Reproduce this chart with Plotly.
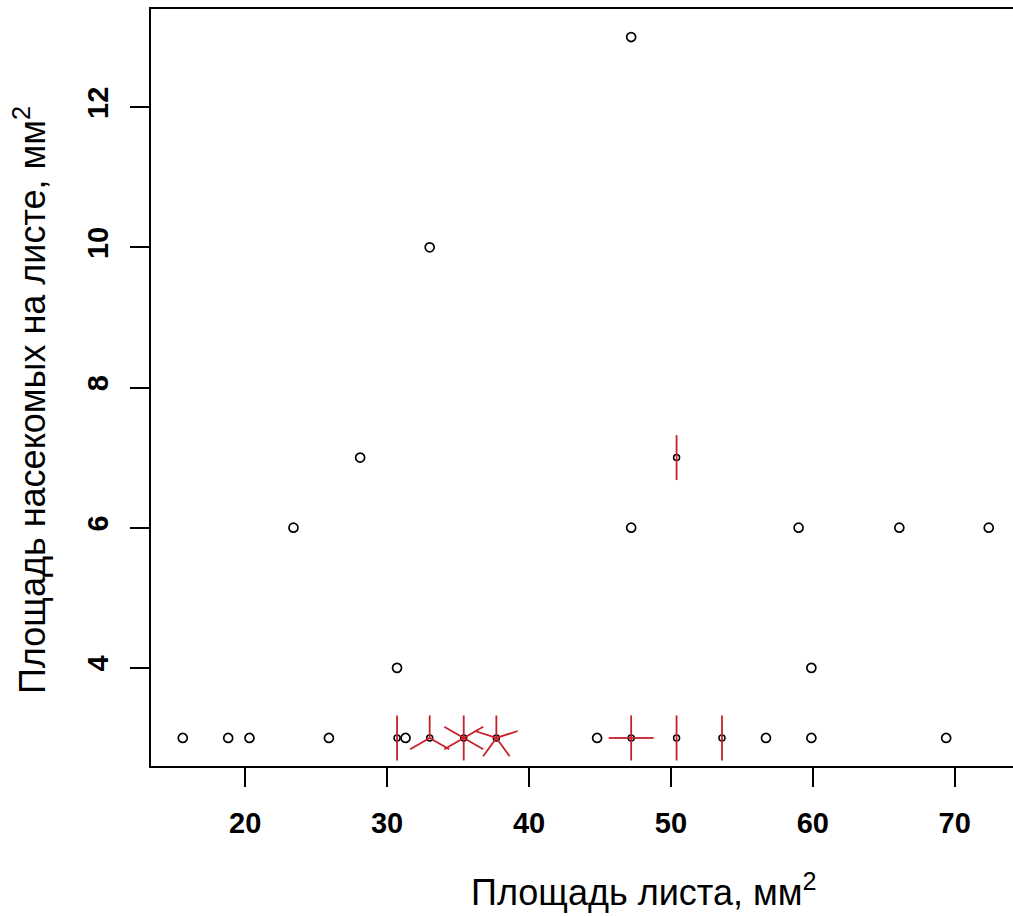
import plotly.graph_objects as go
from collections import Counter
import math

# Raw observations (leaf area, insect area) including repeated pairs
leaf_area = [15.6, 18.8, 20.3, 25.9,
             30.7, 30.7, 31.3,
             33.0, 33.0, 33.0,
             35.4, 35.4, 35.4, 35.4, 35.4, 35.4,
             37.7, 37.7, 37.7, 37.7, 37.7,
             44.8,
             47.2, 47.2, 47.2, 47.2,
             50.4, 50.4, 53.6, 53.6,
             56.7, 59.9, 69.4,
             23.4, 28.1, 30.7, 33.0, 47.2, 47.2,
             50.4, 50.4, 59.0, 59.9, 66.1, 72.4]
insect_area = [3, 3, 3, 3,
               3, 3, 3,
               3, 3, 3,
               3, 3, 3, 3, 3, 3,
               3, 3, 3, 3, 3,
               3,
               3, 3, 3, 3,
               3, 3, 3, 3,
               3, 3, 3,
               6, 7, 4, 10, 13, 6,
               7, 7, 6, 4, 6, 6]

x_ticks = [20, 30, 40, 50, 60, 70]
y_ticks = [4, 6, 8, 10, 12]
x_title = "Площадь листа, мм<sup>2</sup>"
y_title = "Площадь насекомых на листе, мм<sup>2</sup>"

W, H = 1013, 916
ML, MR, MT, MB = 151, 0, 9, 150
x_range = [13.36, 74.11]
y_range = [2.6, 13.4]
petal_px = 22.5

counts = Counter(zip(leaf_area, insect_area))
single = [(k, v) for k, v in counts.items() if v == 1]
multi = [(k, v) for k, v in counts.items() if v > 1]

pw = W - ML - MR
ph = H - MT - MB
xr = petal_px * (x_range[1] - x_range[0]) / pw
yr = petal_px * (y_range[1] - y_range[0]) / ph

fig = go.Figure()
fig.add_trace(go.Scatter(
    x=[k[0] for k, v in single], y=[k[1] for k, v in single], mode="markers",
    marker=dict(symbol="circle-open", size=9, color="black", line=dict(width=1.7)),
    showlegend=False, hoverinfo="skip"))
fig.add_trace(go.Scatter(
    x=[k[0] for k, v in multi], y=[k[1] for k, v in multi], mode="markers",
    marker=dict(symbol="circle-open", size=6, color="black", line=dict(width=1.5)),
    showlegend=False, hoverinfo="skip"))

px_, py_ = [], []
for (cx, cy), n in multi:
    for i in range(1, n + 1):
        d = 2 * math.pi * i / n
        px_ += [cx, cx + xr * math.sin(d), None]
        py_ += [cy, cy + yr * math.cos(d), None]
fig.add_trace(go.Scatter(x=px_, y=py_, mode="lines",
                         line=dict(color="#C81E28", width=1.8),
                         showlegend=False, hoverinfo="skip"))

tick_font = dict(family="Liberation Sans Narrow, Liberation Sans", size=29, color="black")
title_font = dict(family="Liberation Sans", size=36, color="black")


def px_to_paper_x(px):
    return (px - ML) / pw


def px_to_paper_y(py):
    return (H - MB - py) / ph


fig.update_layout(
    width=W, height=H, autosize=False,
    margin=dict(l=ML, r=MR, t=MT, b=MB, pad=0),
    plot_bgcolor="white", paper_bgcolor="white",
    xaxis=dict(range=x_range, tickvals=x_ticks, ticktext=[f"<b>{t}</b>" for t in x_ticks],
               showgrid=False, zeroline=False, showline=True, mirror=True,
               linecolor="black", linewidth=1.5, ticks="outside", ticklen=19,
               tickwidth=1.5, tickcolor="black", tickfont=tick_font,
               ticklabelstandoff=11),
    yaxis=dict(range=y_range, tickvals=y_ticks, ticktext=[f"<b>{t}</b>" for t in y_ticks],
               showgrid=False, zeroline=False, showline=True, mirror=False,
               linecolor="black", linewidth=1.5, ticks="outside", ticklen=19,
               tickwidth=1.5, tickcolor="black", tickfont=tick_font, tickangle=-90,
               ticklabelstandoff=11),
    annotations=[
        dict(text=x_title, x=px_to_paper_x(643), y=px_to_paper_y(890),
             xref="paper", yref="paper", showarrow=False, font=title_font,
             xanchor="center", yanchor="middle"),
        dict(text=y_title, x=px_to_paper_x(30), y=px_to_paper_y(400),
             xref="paper", yref="paper", showarrow=False, textangle=-90,
             font=title_font, xanchor="center", yanchor="middle"),
    ],
)

fig.write_html("out.html")
